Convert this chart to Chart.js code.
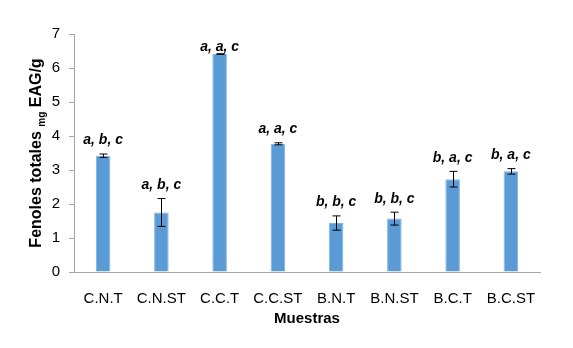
<!DOCTYPE html>
<html>
<head>
<meta charset="utf-8">
<script src="https://cdn.jsdelivr.net/npm/chart.js@4.4.1/dist/chart.umd.min.js"></script>
<style>
  html, body { margin: 0; padding: 0; background: #fff; }
  #wrap { width: 573px; height: 348px; }
</style>
</head>
<body>
<div id="wrap"><canvas id="grafico" width="573" height="348"></canvas></div>
<script>
// datos
const muestras = ["C.N.T", "C.N.ST", "C.C.T", "C.C.ST", "B.N.T", "B.N.ST", "B.C.T", "B.C.ST"];
const fenoles = [3.42, 1.75, 6.41, 3.77, 1.44, 1.57, 2.73, 2.96];
const errores = [0.05, 0.41, 0.01, 0.03, 0.21, 0.19, 0.23, 0.08];
const letras = ["a, b, c", "a, b, c", "a, a, c", "a, a, c", "b, b, c", "b, b, c", "b, a, c", "b, a, c"];

const FUENTE = "'Liberation Sans', Arial, sans-serif";

// -------------------- barras de error + letras --------------------
const errorBarras = {
    id: "errorBarras",
    afterDatasetsDraw(chart) {
        const ctx = chart.ctx;
        const y = chart.scales.y;
        const meta = chart.getDatasetMeta(0);
        ctx.save();
        ctx.strokeStyle = "#000";
        ctx.lineWidth = 1;
        meta.data.forEach((bar, i) => {
            const x = Math.round(bar.x) + 0.5;
            const yTop = y.getPixelForValue(fenoles[i] + errores[i]);
            const yBot = y.getPixelForValue(fenoles[i] - errores[i]);
            ctx.beginPath();
            ctx.moveTo(x, yTop);
            ctx.lineTo(x, yBot);
            ctx.moveTo(x - 4, yTop);
            ctx.lineTo(x + 4, yTop);
            ctx.moveTo(x - 4, yBot);
            ctx.lineTo(x + 4, yBot);
            ctx.stroke();

            // letras de significancia
            const yLabel = Math.max(yTop - 13.5, chart.chartArea.top + 13);
            ctx.fillStyle = "#000";
            ctx.font = "italic bold 14px " + FUENTE;
            ctx.textAlign = "center";
            ctx.textBaseline = "middle";
            ctx.fillText(letras[i], bar.x, yLabel);
        });
        ctx.restore();
    },
    afterDraw(chart) {
        // título del eje Y con subíndice "mg"
        const ctx = chart.ctx;
        const partes = [
            { t: "Fenoles totales ", f: "bold 16px " + FUENTE, dy: 0 },
            { t: "mg", f: "bold 10px " + FUENTE, dy: 5 },
            { t: " EAG/g", f: "bold 16px " + FUENTE, dy: 0 }
        ];
        ctx.save();
        let total = 0;
        partes.forEach(p => { ctx.font = p.f; p.w = ctx.measureText(p.t).width; total += p.w; });
        ctx.translate(37, 153);
        ctx.rotate(-Math.PI / 2);
        ctx.fillStyle = "#000";
        ctx.textBaseline = "middle";
        ctx.textAlign = "left";
        let pos = -total / 2;
        partes.forEach(p => {
            ctx.font = p.f;
            ctx.fillText(p.t, pos, p.dy);
            pos += p.w;
        });
        ctx.restore();
    }
};

new Chart(document.getElementById("grafico"), {
    type: "bar",
    data: {
        labels: muestras,
        datasets: [{
            data: fenoles,
            backgroundColor: "#5B9BD5",
            borderColor: "#7FB2E2",
            borderWidth: 1,
            barPercentage: 0.25,
            categoryPercentage: 1.0
        }]
    },
    options: {
        responsive: false,
        animation: false,
        devicePixelRatio: 1,
        layout: { padding: { top: 34, right: 33, left: 0, bottom: 16 } },
        plugins: {
            legend: { display: false },
            tooltip: { enabled: false }
        },
        scales: {
            x: {
                grid: { display: false },
                border: { color: "#A6A6A6", width: 1 },
                ticks: { color: "#000", font: { family: FUENTE, size: 15 }, padding: 10, maxRotation: 0 },
                title: { display: true, text: "Muestras", color: "#000", font: { family: FUENTE, size: 15, weight: "bold" } },
                afterFit: (s) => { s.height = 60; }
            },
            y: {
                min: 0,
                max: 7,
                ticks: { stepSize: 1, color: "#000", font: { family: FUENTE, size: 15 }, padding: 9 },
                grid: { drawOnChartArea: false, drawTicks: true, tickLength: 5, color: "#A6A6A6" },
                border: { color: "#A6A6A6", width: 1 },
                afterFit: (s) => { s.width = 74; }
            }
        }
    },
    plugins: [errorBarras]
});
</script>
</body>
</html>
